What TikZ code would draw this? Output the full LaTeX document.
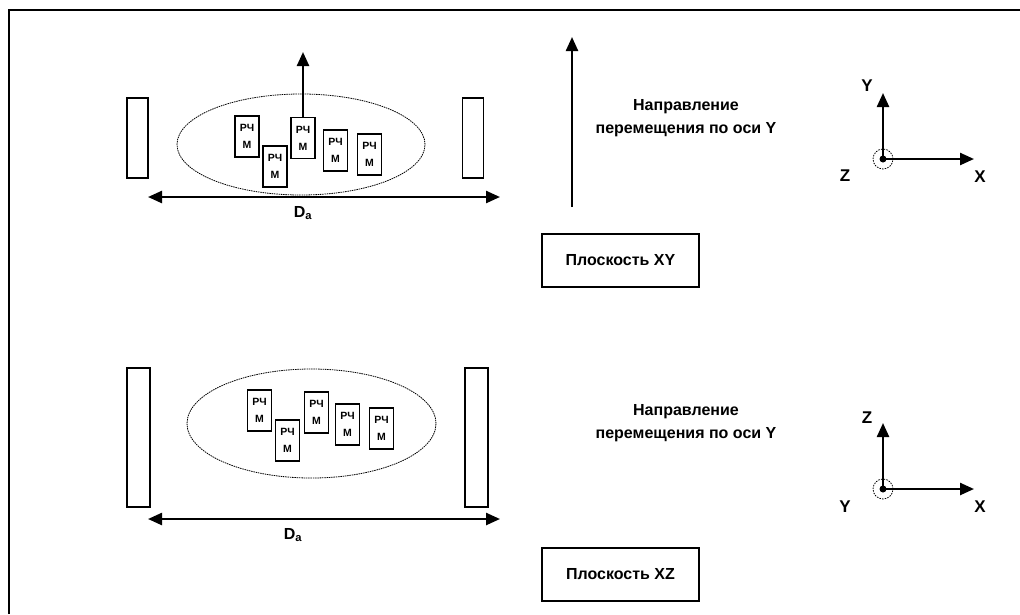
\documentclass[tikz,border=0pt]{standalone}
\usepackage{fontspec}
\setmainfont{Liberation Sans}
\usetikzlibrary{arrows.meta,shapes.geometric}
\begin{document}
\begin{tikzpicture}[x=1pt,y=-1pt,
  every node/.style={font=\bfseries},
  wall/.style={draw,line width=1.2pt,inner sep=0pt,minimum width=21pt},
  tag/.style={draw,line width=1.2pt,inner sep=0pt,minimum width=24pt,minimum height=41pt,align=center,font=\bfseries\fontsize{10.5}{17}\selectfont},
  cloud/.style={draw,ellipse,line width=0.8pt,dash pattern=on 1.5pt off 0.8pt,inner sep=0pt},
  arr/.style={line width=2.4pt,-{Triangle[length=14pt,width=12pt]}},
  darr/.style={line width=2.4pt,{Triangle[length=14pt,width=12pt]}-{Triangle[length=14pt,width=12pt]}},
  plane/.style={draw,line width=1.2pt,minimum width=157pt,minimum height=53pt,font=\bfseries\fontsize{16}{18}\selectfont},
  dirtxt/.style={align=center,font=\bfseries\fontsize{16}{23}\selectfont},
  axlbl/.style={font=\bfseries\fontsize{17}{18}\selectfont},
  dlbl/.style={font=\bfseries\fontsize{16}{17}\selectfont},
  orig/.style={draw,circle,dash pattern=on 1.5pt off 1.2pt,line width=0.8pt,minimum size=20pt,inner sep=0pt}]
\useasboundingbox (0,0) rectangle (1020,614);
% frame
\draw[line width=2pt] (9,614) -- (9,10) -- (1020,10);

% ===== top panel =====
\node[wall,minimum height=80pt] (wl1) at (137.5,138) {};
\node[wall,minimum height=80pt] (wr1) at (473,138) {};
\node[cloud,minimum width=248pt,minimum height=101pt] (e1) at (301,144.5) {};
\node[tag] (t11) at (247,136.5) {РЧ\\М};
\node[tag] (t12) at (275,166.5) {РЧ\\М};
\node[tag] (t13) at (303,138) {РЧ\\М};
\node[tag] (t14) at (335.5,150.5) {РЧ\\М};
\node[tag] (t15) at (369.5,154.5) {РЧ\\М};
\coordinate (up1) at (303,52);
\draw[arr] (t13.north) -- (up1);
\coordinate (dl1) at (148,197);
\coordinate (dr1) at (500,197);
\draw[darr] (dl1) -- (dr1);
\node[dlbl] (da1) at (303,213) {D\textsubscript{а}};

\coordinate (bs1) at (572,207);
\coordinate (be1) at (572,37);
\draw[arr] (bs1) -- (be1);
\node[dirtxt] (dir1) at (686,118) {Направление\\перемещения по оси Y};
\node[plane] (p1) at (620.5,260.5) {Плоскость XY};

\coordinate (o1) at (883,159);
\node[orig] (c1) at (o1) {};
\fill (o1) circle (3.5pt);
\coordinate (y1) at (883,93);
\coordinate (x1) at (974,159);
\draw[arr] (o1) -- (y1);
\draw[arr] (o1) -- (x1);
\node[axlbl] (ly1) at (867,86) {Y};
\node[axlbl] (lz1) at (845,176) {Z};
\node[axlbl] (lx1) at (980,177) {X};

% ===== bottom panel =====
\node[wall,minimum height=139pt,minimum width=23pt] (wl2) at (138.5,437.5) {};
\node[wall,minimum height=139pt,minimum width=23pt] (wr2) at (476.5,437.5) {};
\node[cloud,minimum width=249pt,minimum height=109pt] (e2) at (311.5,423.5) {};
\node[tag] (t21) at (259.5,410.5) {РЧ\\М};
\node[tag] (t22) at (287.5,440.5) {РЧ\\М};
\node[tag] (t23) at (316.5,412.5) {РЧ\\М};
\node[tag] (t24) at (347.5,424.5) {РЧ\\М};
\node[tag] (t25) at (381.5,428.5) {РЧ\\М};
\coordinate (dl2) at (148,519);
\coordinate (dr2) at (500,519);
\draw[darr] (dl2) -- (dr2);
\node[dlbl] (da2) at (293,535) {D\textsubscript{а}};

\node[dirtxt] (dir2) at (686,423) {Направление\\перемещения по оси Y};
\node[plane] (p2) at (620.5,574.5) {Плоскость XZ};

\coordinate (o2) at (883,489);
\node[orig] (c2) at (o2) {};
\fill (o2) circle (3.5pt);
\coordinate (z2) at (883,423);
\coordinate (x2) at (974,489);
\draw[arr] (o2) -- (z2);
\draw[arr] (o2) -- (x2);
\node[axlbl] (lz2) at (867,418) {Z};
\node[axlbl] (ly2) at (845,507) {Y};
\node[axlbl] (lx2) at (980,507) {X};
\end{tikzpicture}
\end{document}
